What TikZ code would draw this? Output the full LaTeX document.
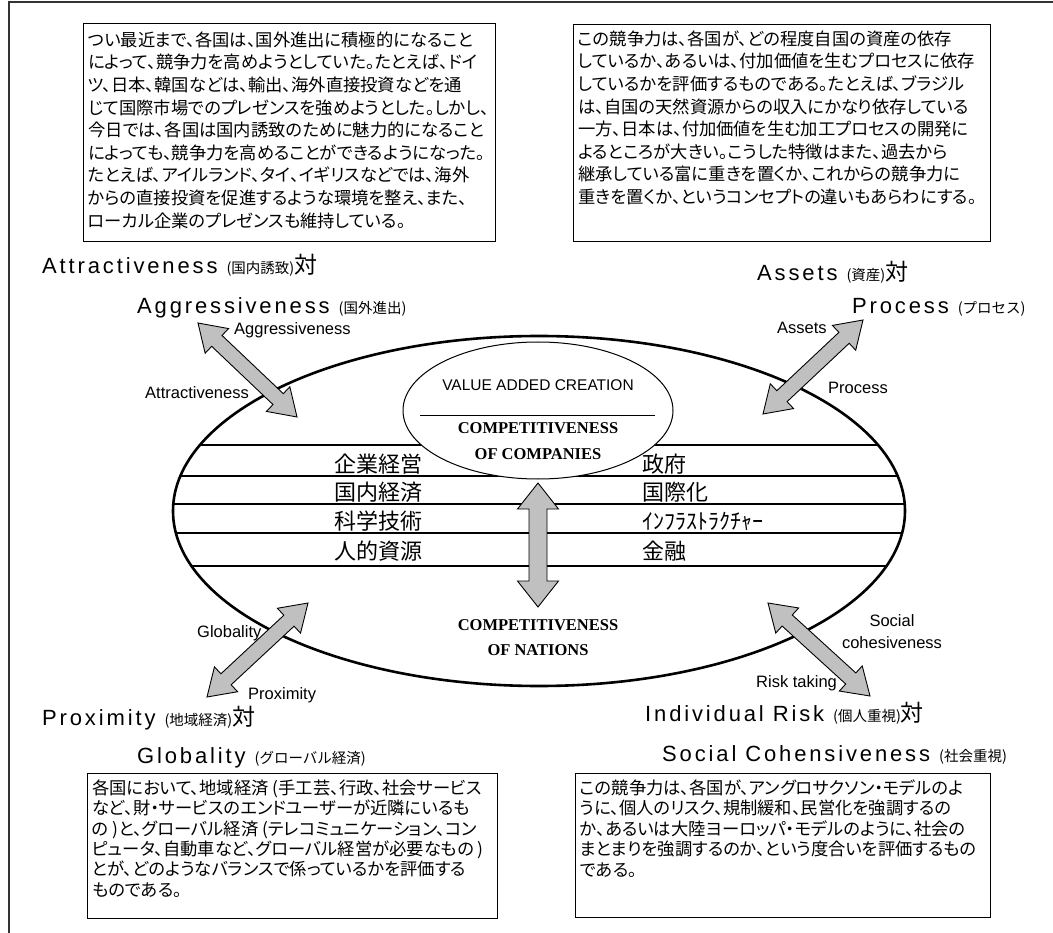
\documentclass[tikz,border=0pt]{standalone}
\usepackage{fontspec}
\setmainfont{Liberation Sans}
\newfontfamily\widesans[LetterSpace=13]{Liberation Sans}
\newfontfamily\jp{Noto Sans CJK JP}
\newfontfamily\jpp[RawFeature=+palt]{Noto Sans CJK JP}
\newfontfamily\tnr{Liberation Serif}
\usetikzlibrary{calc,shapes.geometric}
\definecolor{arrowgray}{HTML}{C0C0C0}
\newcommand\biglabel[3]{{\widesans\fontsize{22}{24}\selectfont #1}{\jp\fontsize{14.5}{16}\selectfont #2}{\jp\fontsize{23}{24}\selectfont #3}}
\newcommand\dblarr[5]{%
  \coordinate (#1-h) at ($(#1)!#3!(#2)$);
  \coordinate (#2-h) at ($(#2)!#3!(#1)$);
  \draw[dbl] (#1) -- ($(#1-h)!#4!-90:(#2)$) -- ($(#1-h)!#5!-90:(#2)$)
    -- ($(#2-h)!#5!90:(#1)$) -- ($(#2-h)!#4!90:(#1)$) -- (#2)
    -- ($(#2-h)!#4!-90:(#1)$) -- ($(#2-h)!#5!-90:(#1)$)
    -- ($(#1-h)!#5!90:(#2)$) -- ($(#1-h)!#4!90:(#2)$) -- cycle;}
\tikzset{
  box/.style={draw=black, line width=1.4pt, fill=white, inner sep=0pt, anchor=north west},
  boxtext/.style={anchor=north west, inner sep=0pt, align=left},
  biglab/.style={anchor=west, inner sep=0pt},
  small/.style={inner sep=0pt, font=\fontsize{16.5}{22}\selectfont},
  jl/.style={anchor=west, inner sep=0pt, font=\jp\fontsize{22}{24}\selectfont},
  capt/.style={inner sep=0pt, font=\tnr\bfseries\fontsize{16.5}{20}\selectfont},
  dbl/.style={fill=arrowgray, draw=black, line width=0.9pt, line join=miter},
  hline/.style={line width=1.3pt},
}
\begin{document}
\begin{tikzpicture}[x=1pt,y=1pt]
\useasboundingbox (0,0) rectangle (1053,-933);
% frame
\draw[line width=1.6pt, draw=black!80] (1053,-2) -- (9,-2) -- (9,-933);

% top boxes
\node[box, minimum width=412pt, minimum height=218pt] (boxTL) at (83,-23) {};
\node[boxtext, font=\jpp\fontsize{17.3}{22.6}\selectfont] (txtTL) at (88,-31.5) {%
つい最近まで、各国は、国外進出に積極的になること\\
によって、競争力を高めようとしていた。たとえば、ドイ\\
ツ、日本、韓国などは、輸出、海外直接投資などを通\\
じて国際市場でのプレゼンスを強めようとした。しかし、\\
今日では、各国は国内誘致のために魅力的になること\\
によっても、競争力を高めることができるようになった。\\
たとえば、アイルランド、タイ、イギリスなどでは、海外\\
からの直接投資を促進するような環境を整え、また、\\
ローカル企業のプレゼンスも維持している。};

\node[box, minimum width=417pt, minimum height=217pt] (boxTR) at (573,-24) {};
\node[boxtext, font=\jpp\fontsize{17.3}{22.6}\selectfont] (txtTR) at (578,-30.5) {%
この競争力は、各国が、どの程度自国の資産の依存\\
しているか、あるいは、付加価値を生むプロセスに依存\\
しているかを評価するものである。たとえば、ブラジル\\
は、自国の天然資源からの収入にかなり依存している\\
一方、日本は、付加価値を生む加工プロセスの開発に\\
よるところが大きい。こうした特徴はまた、過去から\\
継承している富に重きを置くか、これからの競争力に\\
重きを置くか、というコンセプトの違いもあらわにする。};

% bottom boxes
\node[box, minimum width=410pt, minimum height=145pt] (boxBL) at (87,-773) {};
\node[boxtext, font=\jpp\fontsize{17.3}{20.4}\selectfont] (txtBL) at (92,-779.5) {%
各国において、地域経済 (手工芸、行政、社会サービス\\
など、財・サービスのエンドユーザーが近隣にいるも\\
の )と、グローバル経済 (テレコミュニケーション、コン\\
ピュータ、自動車など、グローバル経営が必要なもの )\\
とが、どのようなバランスで係っているかを評価する\\
ものである。};

\node[box, minimum width=415pt, minimum height=144pt] (boxBR) at (575,-773) {};
\node[boxtext, font=\jpp\fontsize{17.3}{20.4}\selectfont] (txtBR) at (580,-779.5) {%
この競争力は、各国が、アングロサクソン・モデルのよ\\
うに、個人のリスク、規制緩和、民営化を強調するの\\
か、あるいは大陸ヨーロッパ・モデルのように、社会の\\
まとまりを強調するのか、という度合いを評価するもの\\
である。};

% big labels
\node[biglab] (attr) at (42,-265) {\biglabel{Attractiveness }{(国内誘致)}{対}};
\node[biglab] (aggr) at (137,-308) {\biglabel{Aggressiveness }{(国外進出)}{}};
\node[biglab] (assets) at (757,-272) {\biglabel{Assets }{(資産)}{対}};
\node[biglab] (process) at (852,-307) {\biglabel{Process }{(プロセス)}{}};
\node[biglab] (prox) at (42,-718) {\biglabel{Proximity }{(地域経済)}{対}};
\node[biglab] (glob) at (137,-758) {\biglabel{Globality }{(グローバル経済)}{}};
\node[biglab] (indiv) at (645,-713) {\biglabel{Individual Risk }{(個人重視)}{対}};
\node[biglab] (social) at (662,-755) {\biglabel{Social Cohensiveness }{(社会重視)}{}};

% central ellipse with bands
\begin{scope}
  \clip (539,-511) ellipse [x radius=366pt, y radius=175pt];
  \foreach \yy in {445,476,504,533,566}
    \draw[hline] (150,-\yy) -- (930,-\yy);
\end{scope}
\node[ellipse, draw, line width=2.6pt, minimum width=732pt, minimum height=350pt, inner sep=0pt] (nation) at (539,-511) {};
\node[ellipse, draw, fill=white, line width=1pt, minimum width=270pt, minimum height=137pt, inner sep=0pt] (company) at (538,-410.5) {};
\node[inner sep=0pt, font=\fontsize{15.5}{18}\selectfont] (vac) at (538,-385) {VALUE ADDED CREATION};
\coordinate (sepL) at (420,-416);
\coordinate (sepR) at (655,-416);
\draw[line width=1pt] (sepL) -- (sepR);
\node[capt] (coc1) at (538,-428) {COMPETITIVENESS};
\node[capt] (coc2) at (538,-454) {OF COMPANIES};

\node[jl] (j1) at (334,-464) {企業経営};
\node[jl] (j2) at (334,-492.5) {国内経済};
\node[jl] (j3) at (334,-521.5) {科学技術};
\node[jl] (j4) at (334,-551) {人的資源};
\node[jl] (k1) at (642,-464) {政府};
\node[jl] (k2) at (642,-492.5) {国際化};
\node[jl] (k3) at (642,-521.5) {ｲﾝﾌﾗｽﾄﾗｸﾁｬｰ};
\node[jl] (k4) at (642,-551) {金融};

\coordinate (vA) at (538,-483);
\coordinate (vB) at (538,-607);
\dblarr{vA}{vB}{26pt}{20.5pt}{9pt}
\node[capt] (con1) at (538,-625) {COMPETITIVENESS};
\node[capt] (con2) at (538,-650) {OF NATIONS};

% corner arrows
\coordinate (tlA) at (198,-323);
\coordinate (tlB) at (297,-417);
\dblarr{tlA}{tlB}{26pt}{17pt}{7.5pt}
\coordinate (trA) at (863,-320);
\coordinate (trB) at (763,-414);
\dblarr{trA}{trB}{26pt}{17pt}{7.5pt}
\coordinate (blA) at (308,-603);
\coordinate (blB) at (207,-697);
\dblarr{blA}{blB}{26pt}{17pt}{7.5pt}
\coordinate (brA) at (768,-603);
\coordinate (brB) at (870,-696);
\dblarr{brA}{brB}{26pt}{17pt}{7.5pt}

% small labels
\node[small, anchor=west] (lAggr) at (234,-330) {Aggressiveness};
\node[small, anchor=east] (lAttr) at (249,-393) {Attractiveness};
\node[small, anchor=west] (lAssets) at (777,-328) {Assets};
\node[small, anchor=west] (lProc) at (828,-388) {Process};
\node[small, anchor=west] (lGlob) at (197,-633) {Globality};
\node[small, anchor=west] (lProx) at (248,-695) {Proximity};
\node[small, align=center] (lSoc) at (892,-632) {Social\\cohesiveness};
\node[small, anchor=west] (lRisk) at (756,-683) {Risk taking};
\end{tikzpicture}
\end{document}
